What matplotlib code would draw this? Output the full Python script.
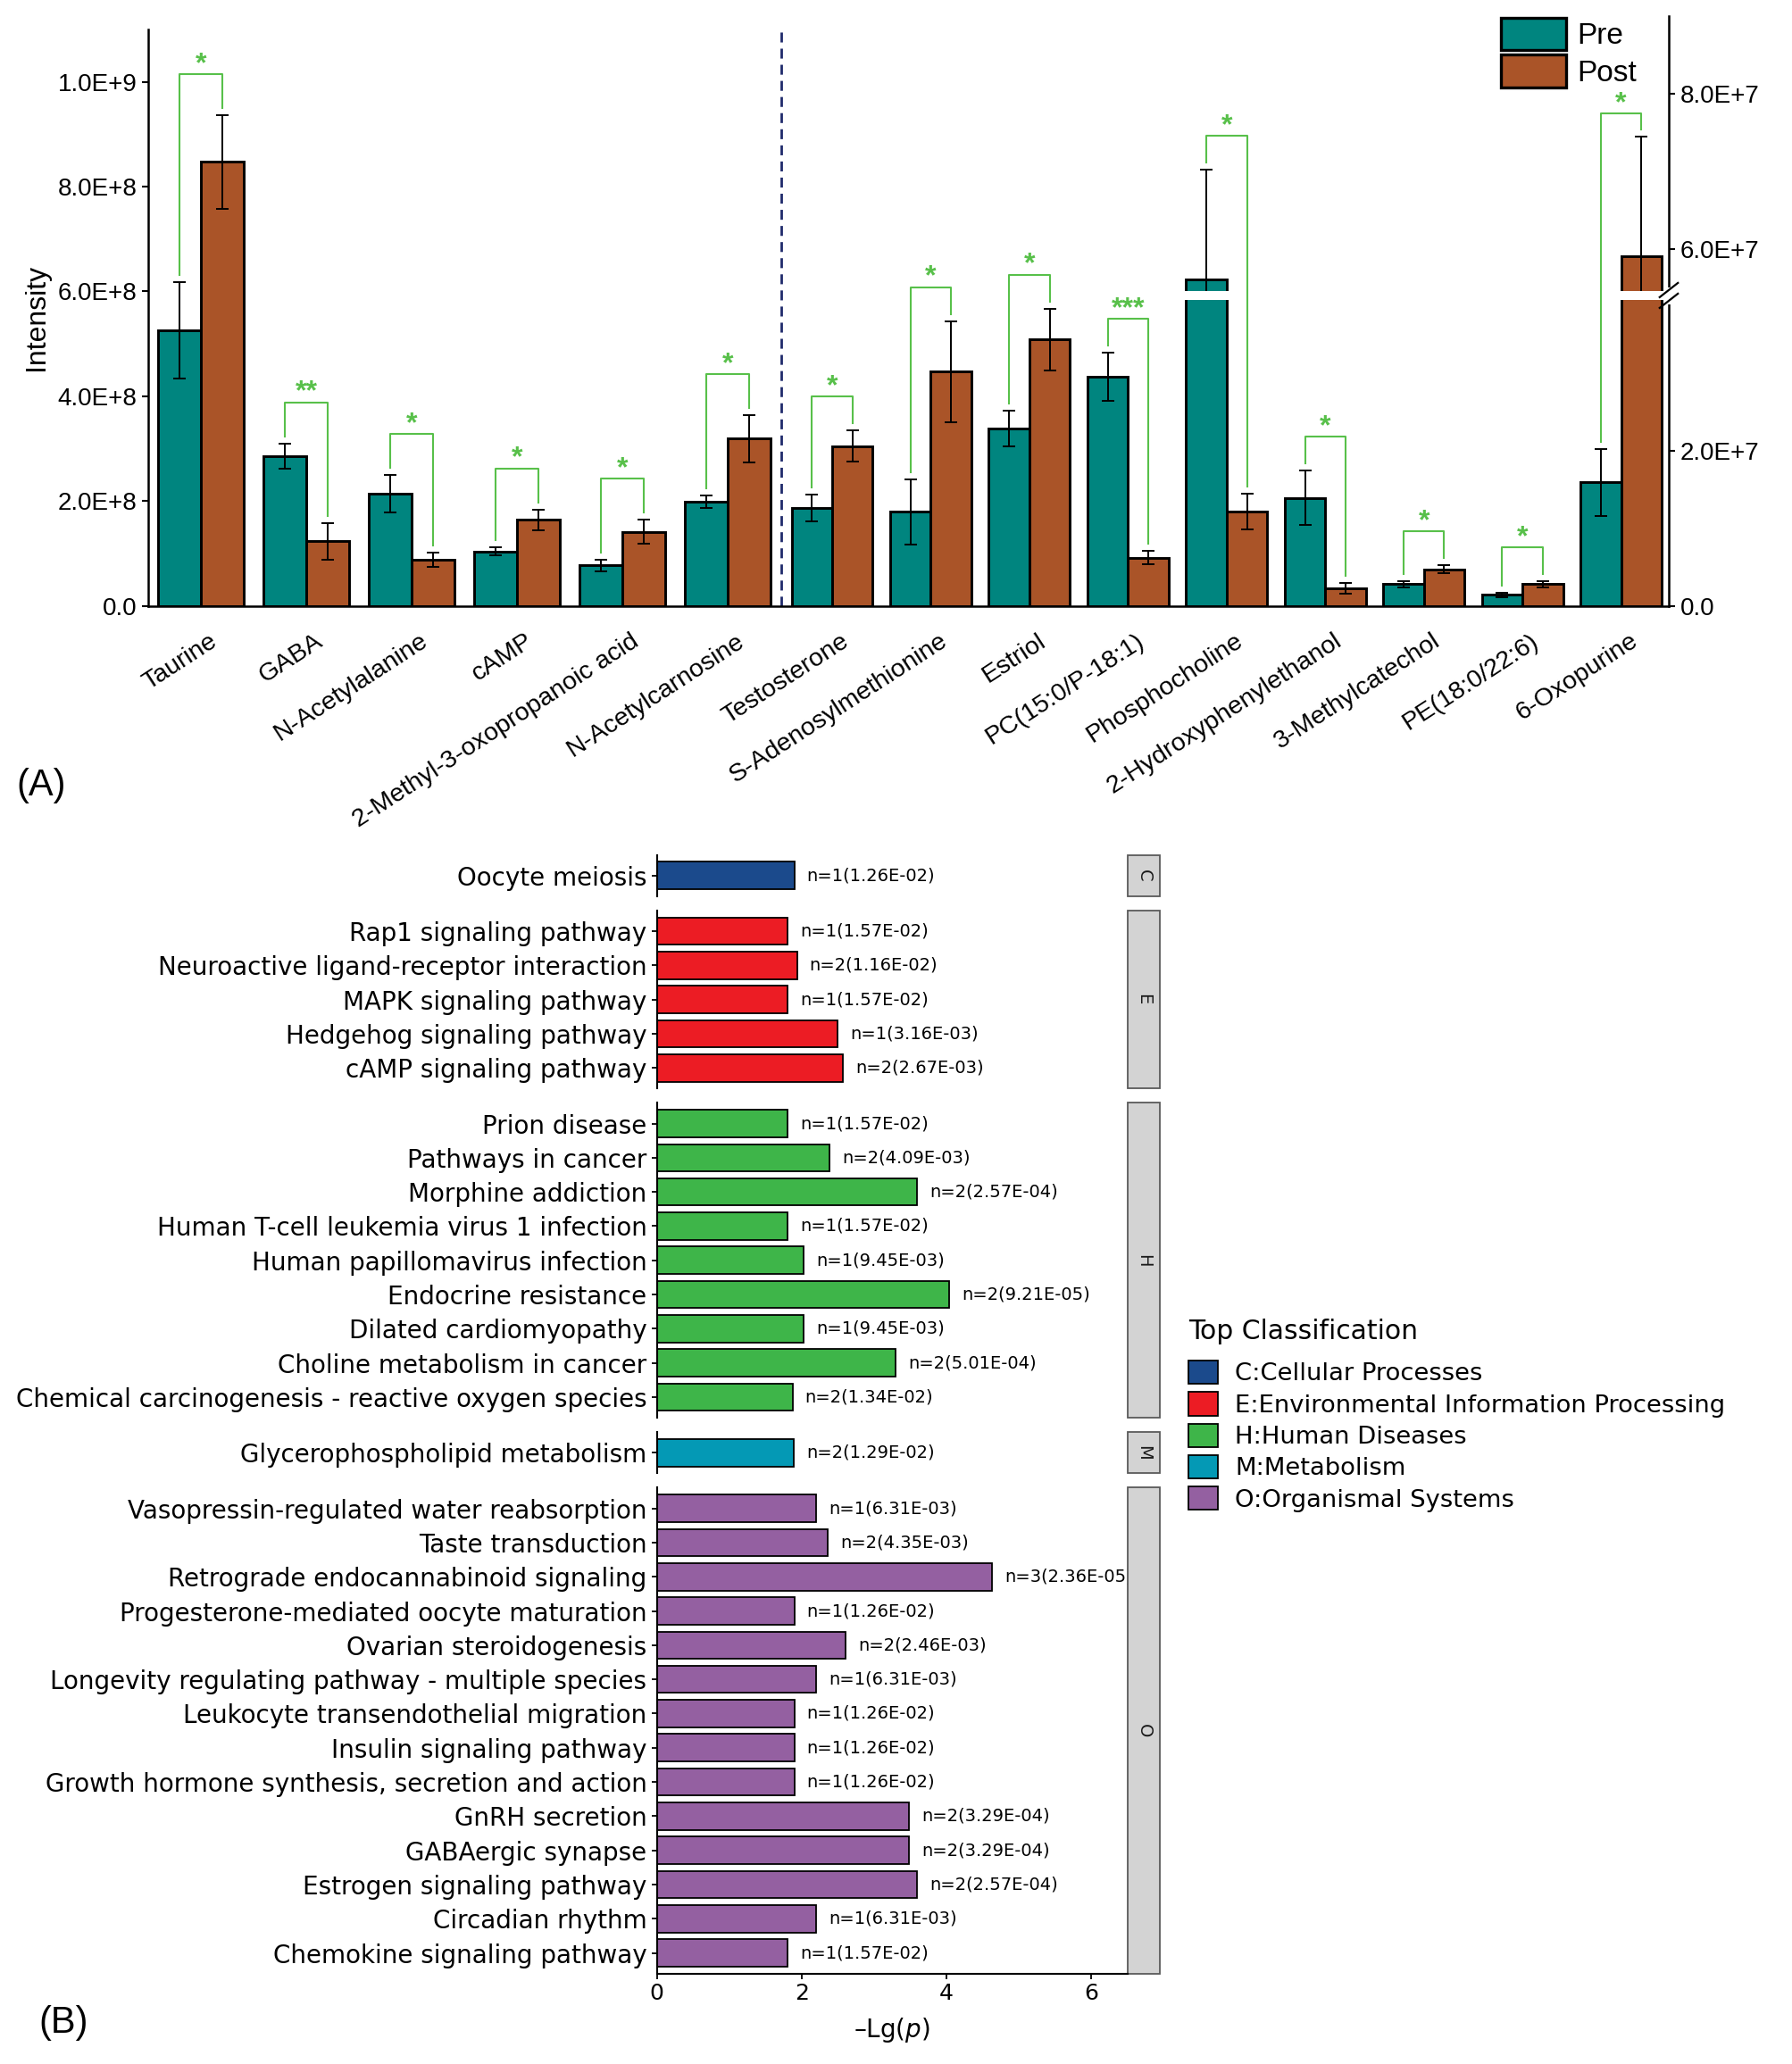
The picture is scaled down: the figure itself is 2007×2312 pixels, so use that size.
import numpy as np
import matplotlib
matplotlib.use("Agg")
import matplotlib.pyplot as plt
from matplotlib.patches import Patch, Rectangle
from matplotlib.transforms import ScaledTranslation

# ---------------- panel A data ----------------
metabolites_left = ["Taurine", "GABA", "N-Acetylalanine", "cAMP",
                    "2-Methyl-3-oxopropanoic acid", "N-Acetylcarnosine"]
pre_left = [5.26e8, 2.86e8, 2.14e8, 1.04e8, 0.77e8, 1.98e8]
pre_left_err = [0.92e8, 0.24e8, 0.36e8, 0.07e8, 0.11e8, 0.12e8]
post_left = [8.47e8, 1.23e8, 0.88e8, 1.64e8, 1.41e8, 3.19e8]
post_left_err = [0.89e8, 0.35e8, 0.13e8, 0.20e8, 0.23e8, 0.45e8]
stars_left = ["*", "**", "*", "*", "*", "*"]

metabolites_right = ["Testosterone", "S-Adenosylmethionine", "Estriol", "PC(15:0/P-18:1)",
                     "Phosphocholine", "2-Hydroxyphenylethanol", "3-Methylcatechol",
                     "PE(18:0/22:6)", "6-Oxopurine"]
pre_right = [1.26e7, 1.21e7, 2.29e7, 2.95e7, 5.61e7, 1.39e7, 0.28e7, 0.14e7, 1.59e7]
pre_right_err = [0.17e7, 0.42e7, 0.23e7, 0.31e7, 1.41e7, 0.35e7, 0.04e7, 0.03e7, 0.43e7]
post_right = [2.06e7, 3.02e7, 3.43e7, 0.62e7, 1.22e7, 0.23e7, 0.47e7, 0.28e7, 5.90e7]
post_right_err = [0.20e7, 0.65e7, 0.40e7, 0.085e7, 0.23e7, 0.07e7, 0.05e7, 0.04e7, 1.55e7]
stars_right = ["*", "*", "*", "***", "*", "*", "*", "*", "*"]

left_ticks = [0, 2e8, 4e8, 6e8, 8e8, 1e9]
left_ticklabels = ["0.0", "2.0E+8", "4.0E+8", "6.0E+8", "8.0E+8", "1.0E+9"]
right_ticks = [0, 2e7, 6e7, 8e7]
right_ticklabels = ["0.0", "2.0E+7", "6.0E+7", "8.0E+7"]
break_lo, break_hi = 4.0e7, 5.4e7

# ---------------- panel B data ----------------
classes = ["C", "E", "H", "M", "O"]
class_names = ["C:Cellular Processes", "E:Environmental Information Processing",
               "H:Human Diseases", "M:Metabolism", "O:Organismal Systems"]
class_colors = ["#1B4A8C", "#EC1C24", "#3EB549", "#0499B5", "#9460A1"]

pathways = [
    "Oocyte meiosis",
    "Rap1 signaling pathway", "Neuroactive ligand-receptor interaction",
    "MAPK signaling pathway", "Hedgehog signaling pathway", "cAMP signaling pathway",
    "Prion disease", "Pathways in cancer", "Morphine addiction",
    "Human T-cell leukemia virus 1 infection", "Human papillomavirus infection",
    "Endocrine resistance", "Dilated cardiomyopathy", "Choline metabolism in cancer",
    "Chemical carcinogenesis - reactive oxygen species",
    "Glycerophospholipid metabolism",
    "Vasopressin-regulated water reabsorption", "Taste transduction",
    "Retrograde endocannabinoid signaling", "Progesterone-mediated oocyte maturation",
    "Ovarian steroidogenesis", "Longevity regulating pathway - multiple species",
    "Leukocyte transendothelial migration", "Insulin signaling pathway",
    "Growth hormone synthesis, secretion and action", "GnRH secretion",
    "GABAergic synapse", "Estrogen signaling pathway", "Circadian rhythm",
    "Chemokine signaling pathway",
]
pathway_class = ["C"] + ["E"] * 5 + ["H"] * 9 + ["M"] + ["O"] * 14
hit_count = [1,
             1, 2, 1, 1, 2,
             1, 2, 2, 1, 1, 2, 1, 2, 2,
             2,
             1, 2, 3, 1, 2, 1, 1, 1, 1, 2, 2, 2, 1, 1]
p_values = [1.26e-2,
            1.57e-2, 1.16e-2, 1.57e-2, 3.16e-3, 2.67e-3,
            1.57e-2, 4.09e-3, 2.57e-4, 1.57e-2, 9.45e-3, 9.21e-5, 9.45e-3, 5.01e-4, 1.34e-2,
            1.29e-2,
            6.31e-3, 4.35e-3, 2.36e-5, 1.26e-2, 2.46e-3, 6.31e-3, 1.26e-2, 1.26e-2,
            1.26e-2, 3.29e-4, 3.29e-4, 2.57e-4, 6.31e-3, 1.57e-2]

PRE_COLOR = "#00857F"
POST_COLOR = "#AA5428"
SIG_COLOR = "#58C04A"
FONT_A = "Liberation Sans"

W, H = 2008, 2312
fig = plt.figure(figsize=(W / 100, H / 100), dpi=100)


def rect(l, t, r, b):
    return [l / W, 1 - b / H, (r - l) / W, (b - t) / H]


# ================= panel A =================
ax = fig.add_axes(rect(166, 33, 1869, 678.6))
ax2 = fig.add_axes(rect(166, 18, 1869, 678.6))

w_left, w_right = 0.405, 0.385
x_left = np.arange(len(metabolites_left), dtype=float)
x_right = 5.99 + 0.936 * np.arange(len(metabolites_right))


def fwd(v):
    v = np.asarray(v, dtype=float)
    return np.where(v <= break_lo, v, np.where(v >= break_hi, v - (break_hi - break_lo), break_lo))


def inv(u):
    u = np.asarray(u, dtype=float)
    return np.where(u <= break_lo, u, u + (break_hi - break_lo))


for a in (ax, ax2):
    a.set_xlim(-0.5, 13.93)
ax.set_ylim(0, 1.1e9)
ax2.set_yscale("function", functions=(fwd, inv))
ax2.set_ylim(0, 9.0e7)
ax2.patch.set_visible(False)

bar_kw = dict(edgecolor="black", linewidth=2.1, zorder=2)
err_kw = dict(fmt="none", ecolor="black", elinewidth=1.4, capsize=5, capthick=1.4, zorder=3)

ax.bar(x_left - w_left / 2, pre_left, w_left, color=PRE_COLOR, **bar_kw)
ax.bar(x_left + w_left / 2, post_left, w_left, color=POST_COLOR, **bar_kw)
ax.errorbar(x_left - w_left / 2, pre_left, yerr=pre_left_err, **err_kw)
ax.errorbar(x_left + w_left / 2, post_left, yerr=post_left_err, **err_kw)

ax2.bar(x_right - w_right / 2, pre_right, w_right, color=PRE_COLOR, **bar_kw)
ax2.bar(x_right + w_right / 2, post_right, w_right, color=POST_COLOR, **bar_kw)
ax2.errorbar(x_right - w_right / 2, pre_right, yerr=pre_right_err, **err_kw)
ax2.errorbar(x_right + w_right / 2, post_right, yerr=post_right_err, **err_kw)

# white gap where a right-axis bar crosses the break
d = 0.06e7
for xs, vals in ((x_right - w_right / 2, pre_right), (x_right + w_right / 2, post_right)):
    for xc, v in zip(xs, vals):
        if v > break_hi:
            ax2.add_patch(Rectangle((xc - w_right / 2 - 0.03, break_lo - d), w_right + 0.06,
                                    break_hi - break_lo + 2 * d, facecolor="white",
                                    edgecolor="none", zorder=5))

# break marks on the right spine
yb = float(fwd(break_lo) / fwd(9.0e7))
fpx = 1 / (678.6 - 18)
ax2.plot([1, 1], [yb - 6 * fpx, yb + 6 * fpx], transform=ax2.transAxes, color="white",
         lw=5, clip_on=False, zorder=6)
for off in (-6, 6):
    ax2.plot([1 - 0.006, 1 + 0.006], [yb + (off - 8) * fpx, yb + (off + 8) * fpx],
             transform=ax2.transAxes, color="black", lw=1.6, clip_on=False, zorder=7)


def bracket(a, xl, xr, top_l, top_r, label, gap, ceiling=None):
    to_px = a.transData.transform
    from_px = a.transData.inverted().transform
    pl = to_px((xl, top_l))
    pr = to_px((xr, top_r))
    yl, yr = pl[1] + 8, pr[1] + 8
    yt = max(yl, yr) + gap
    if ceiling is not None:
        yt = min(yt, ceiling)
    pts = from_px([(pl[0], yl), (pl[0], yt), (pr[0], yt), (pr[0], yr), (pl[0], yt - 4)])
    a.plot(pts[:4, 0], pts[:4, 1], color=SIG_COLOR, lw=1.5, zorder=4, clip_on=False)
    a.text((xl + xr) / 2, pts[4, 1], label, ha="center", va="bottom", color=SIG_COLOR,
           fontsize=23, fontweight="bold", fontfamily=FONT_A, clip_on=False)


for i, s in enumerate(stars_left):
    bracket(ax, x_left[i] - w_left / 2, x_left[i] + w_left / 2,
            pre_left[i] + pre_left_err[i], post_left[i] + post_left_err[i], s, 38)
for i, s in enumerate(stars_right):
    bracket(ax2, x_right[i] - w_right / 2, x_right[i] + w_right / 2,
            pre_right[i] + pre_right_err[i], post_right[i] + post_right_err[i], s, 30,
            ceiling=H - 127)

ax.axvline((x_left[-1] + w_left + x_right[0] - w_right) / 2, color="#1F2A6B", ls="--",
           lw=2, dashes=(4, 2.5), zorder=1)

for s in ("top", "right"):
    ax.spines[s].set_visible(False)
for s in ("left", "bottom"):
    ax.spines[s].set_linewidth(1.8)
for s in ("top", "left", "bottom"):
    ax2.spines[s].set_visible(False)
ax2.spines["right"].set_linewidth(1.8)

ax.set_yticks(left_ticks, left_ticklabels, fontsize=20, fontfamily=FONT_A)
ax.tick_params(axis="y", length=5, width=1.5, pad=4)
ax.set_xticks(np.concatenate([x_left, x_right]), metabolites_left + metabolites_right,
              rotation=33, ha="right", rotation_mode="anchor", fontsize=20.5,
              fontfamily=FONT_A)
ax.tick_params(axis="x", length=0, pad=19)
shift = ScaledTranslation(0.09, 0, fig.dpi_scale_trans)
for lbl in ax.get_xticklabels():
    lbl.set_transform(lbl.get_transform() + shift)

ax2.yaxis.tick_right()
ax2.set_yticks(right_ticks, right_ticklabels, fontsize=20, fontfamily=FONT_A)
ax2.yaxis.set_minor_locator(matplotlib.ticker.NullLocator())
ax2.tick_params(axis="y", length=5, width=1.5, pad=4)
ax2.tick_params(axis="x", bottom=False, labelbottom=False)

fig.text(41 / W, 1 - 355 / H, "Intensity", rotation=90, ha="center", va="center",
         fontsize=23, fontfamily=FONT_A)

handles_a = [Patch(facecolor=PRE_COLOR, edgecolor="black", lw=2.4),
             Patch(facecolor=POST_COLOR, edgecolor="black", lw=2.4)]
fig.legend(handles_a, ["Pre", "Post"], loc="upper left", bbox_to_anchor=(1681 / W, 1 - 20 / H),
           frameon=False, prop={"family": FONT_A, "size": 24}, handlelength=2.2,
           handleheight=1.3, handletextpad=0.35, labelspacing=0.15, borderpad=0,
           borderaxespad=0)

fig.text(46 / W, 1 - 880 / H, "(A)", ha="center", va="center", fontsize=30, fontfamily=FONT_A)

# ================= panel B =================
unit = 38.3
gap = 16
top = 957.5
b_left, b_right = 735.6, 1263
strip_w = 36 / (b_right - b_left)
lg_p = -np.log10(p_values)

for k, cls in enumerate(classes):
    idx = [i for i, c in enumerate(pathway_class) if c == cls]
    n = len(idx)
    h = (n + 0.21) * unit
    axb = fig.add_axes(rect(b_left, top, b_right, top + h))
    top += h + gap
    ypos = np.arange(n)[::-1]
    vals = lg_p[idx]
    axb.barh(ypos, vals, height=0.8, color=class_colors[k], edgecolor="black", linewidth=1.3)
    for y, v, i in zip(ypos, vals, idx):
        axb.annotate(f"n={hit_count[i]}({p_values[i]:.2E})", (v, y), xytext=(10, 0),
                     textcoords="offset points", va="center", ha="left", fontsize=14,
                     clip_on=True)
    axb.set_xlim(0, 6.5)
    axb.set_ylim(-0.605, n - 1 + 0.605)
    axb.set_yticks(ypos, [pathways[i] for i in idx], fontsize=20)
    axb.tick_params(axis="y", length=4, width=1.3, pad=4)
    for s in ("top", "right"):
        axb.spines[s].set_visible(False)
    axb.spines["left"].set_linewidth(1.5)
    axb.add_patch(Rectangle((1, 0), strip_w, 1, transform=axb.transAxes, clip_on=False,
                            facecolor="#D3D3D3", edgecolor="#5A5A5A", lw=1.3))
    axb.text(1 + strip_w / 2, 0.5, cls, transform=axb.transAxes, rotation=-90,
             ha="center", va="center", fontsize=14, color="#1A1A1A")
    if cls == classes[-1]:
        axb.spines["bottom"].set_linewidth(1.5)
        axb.set_xticks([0, 2, 4, 6])
        axb.tick_params(axis="x", labelsize=18, length=4, width=1.3)
        axb.set_xlabel("\u2013Lg($p$)", fontsize=20, labelpad=9)
    else:
        axb.spines["bottom"].set_visible(False)
        axb.tick_params(axis="x", bottom=False, labelbottom=False)

fig.text(1331 / W, 1 - 1492 / H, "Top Classification", ha="left", va="center", fontsize=21.5)
handles_b = [Patch(facecolor=c, edgecolor="black", lw=1.3) for c in class_colors]
fig.legend(handles_b, class_names, loc="upper left",
           bbox_to_anchor=(1331 / W, 1 - 1524 / H), frameon=False, fontsize=19.7,
           handlelength=1.22, handleheight=1.1, handletextpad=0.68,
           labelspacing=0.25, borderpad=0, borderaxespad=0)

fig.text(71 / W, 1 - 2266 / H, "(B)", ha="center", va="center", fontsize=30, fontfamily=FONT_A)

fig.savefig("out.png", dpi=100)
